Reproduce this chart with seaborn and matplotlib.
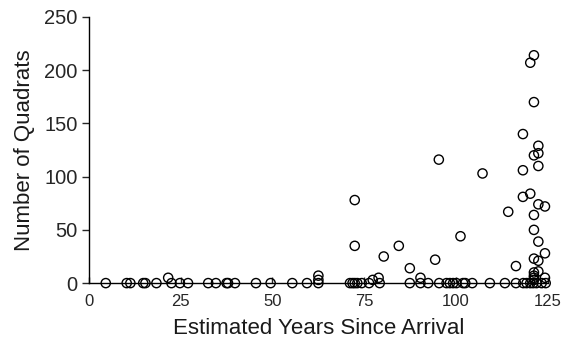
import numpy as np
import pandas as pd
import seaborn as sns
import matplotlib.pyplot as plt

# points (years since arrival, number of quadrats)
years_pos = [21.6, 62.5, 62.5, 72.4, 72.4, 77.3, 78.9, 80.3, 84.4, 87.4, 90.3,
             94.3, 95.3, 101.2, 107.2, 114.2, 116.3, 118.2, 118.2, 118.2,
             120.2, 120.2, 121.2, 121.2, 121.2, 121.2, 121.2, 121.2, 121.2,
             121.2, 121.2, 121.2, 122.4, 122.4, 122.4, 122.4, 122.4, 122.4,
             122.4, 124.2, 124.2, 124.2]
quadrats_pos = [5, 7, 3, 78, 35, 3, 5, 25, 35, 14, 5,
                22, 116, 44, 103, 67, 16, 140, 106, 81,
                207, 84, 214, 170, 120, 64, 50, 23, 10,
                7, 5, 3, 129, 122, 110, 74, 39, 21,
                11, 72, 28, 5]
years_zero = [4.6, 10.3, 11.3, 14.8, 15.4, 18.4, 22.5, 24.8, 27.0, 32.5, 34.6,
              37.5, 37.9, 39.8, 45.5, 49.5, 55.4, 59.4, 62.5, 71.1, 71.8, 72.4,
              73.1, 74.3, 76.3, 79.2, 87.4, 90.3, 92.4, 95.4, 97.4, 98.3, 99.2,
              100.1, 101.9, 102.5, 104.4, 109.2, 113.3, 116.3, 118.3, 119.2,
              120.2, 121.0, 121.9, 123.3, 124.4]
x_ticks = [0, 25, 50, 75, 100, 125]
y_ticks = [0, 50, 100, 150, 200, 250]

df = pd.DataFrame({
    "years": years_pos + years_zero,
    "quadrats": quadrats_pos + [0] * len(years_zero),
})

sns.set_style("ticks")
plt.rcParams["font.family"] = ["Liberation Sans", "DejaVu Sans"]

fig = plt.figure(figsize=(5.66, 3.53), dpi=100)
ax = fig.add_axes([0.157, 0.198, 0.811, 0.754])

sns.scatterplot(data=df, x="years", y="quadrats", ax=ax, s=44,
                facecolor="none", edgecolor="black", linewidth=1.0,
                clip_on=False, zorder=3)

ax.set_xlim(0, 125)
ax.set_ylim(0, 250)
ax.set_xticks(x_ticks)
ax.set_yticks(y_ticks)
ax.tick_params(axis="y", labelsize=14.5, length=5, width=1,
               direction="out", pad=3)
ax.tick_params(axis="x", labelsize=12, length=4, width=1,
               direction="in", pad=8)
ax.set_xlabel("Estimated Years Since Arrival", fontsize=16, labelpad=6,
              color="#1a1a1a")
ax.set_ylabel("Number of Quadrats", fontsize=16, labelpad=7, color="#1a1a1a")
sns.despine(ax=ax)
for side in ["left", "bottom"]:
    ax.spines[side].set_linewidth(1.0)
    ax.spines[side].set_color("black")

plt.savefig("out.png", dpi=100)
